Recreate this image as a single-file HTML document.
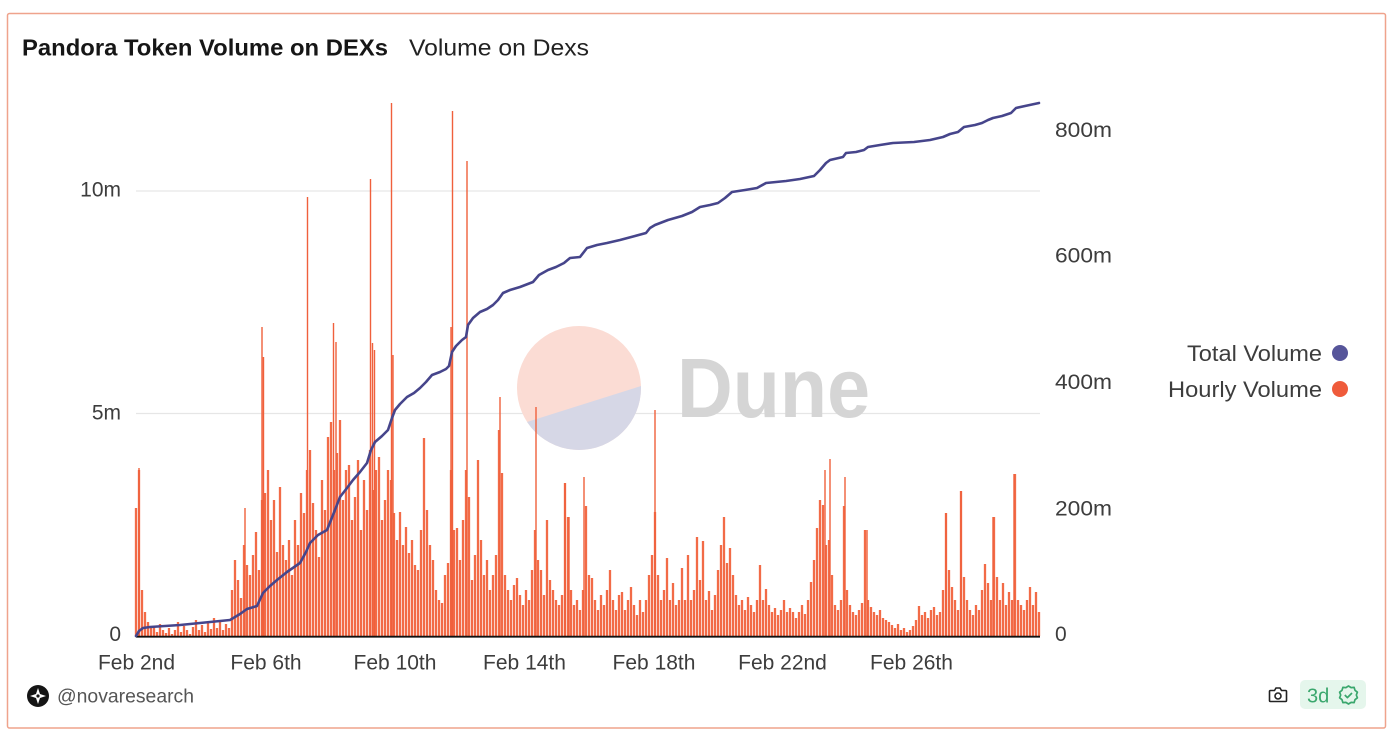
<!DOCTYPE html>
<html>
<head>
<meta charset="utf-8">
<style>
html,body{margin:0;padding:0;background:#fff;}
svg{display:block;}
text{font-family:"Liberation Sans",Arial,sans-serif;}
</style>
</head>
<body>
<svg width="1400" height="741" viewBox="0 0 1400 741" xmlns="http://www.w3.org/2000/svg">
<rect x="0" y="0" width="1400" height="741" fill="#fff"/>
<rect x="7.5" y="13.5" width="1378" height="714.5" rx="2" fill="#fff" stroke="#efa38c" stroke-width="1.5"/>

<!-- title -->
<text x="22" y="55.5" font-size="23" font-weight="bold" fill="#161616" textLength="366" lengthAdjust="spacingAndGlyphs">Pandora Token Volume on DEXs</text>
<text x="409" y="55.5" font-size="23" fill="#222" textLength="180" lengthAdjust="spacingAndGlyphs">Volume on Dexs</text>

<!-- gridlines -->
<line x1="136" y1="191" x2="1040" y2="191" stroke="#e6e6e6" stroke-width="1.2"/>
<line x1="136" y1="413.5" x2="1040" y2="413.5" stroke="#e6e6e6" stroke-width="1.2"/>

<!-- Dune watermark -->
<clipPath id="cc"><circle cx="579" cy="388" r="62"/></clipPath>
<circle cx="579" cy="388" r="62" fill="#fbdcd4"/>
<polygon clip-path="url(#cc)" points="500,428 527,422 641,386 660,380 660,460 500,460" fill="#d6d7e6"/>
<text x="677" y="417" font-size="84" font-weight="bold" fill="#d5d5d5" textLength="193" lengthAdjust="spacingAndGlyphs">Dune</text>

<!-- bars -->
<path fill="none" stroke="#f26b47" stroke-width="2.3" d="M136 636V508M139 636V470M142 636V590M145 636V612M148 636V622M151 636V628M154 636V626M157 636V632M160 636V624M163 636V630M166 636V633M169 636V628M172 636V634M175 636V630M178 636V622M181 636V632M184 636V626M187 636V630M190 636V634M193 636V627M196 636V620M199 636V630M202 636V625M205 636V632M208 636V623M211 636V629M214 636V618M217 636V628M220 636V622M223 636V630M226 636V624M229 636V628
M232 636V590M235 636V560M238 636V580M241 636V598M244 636V545M247 636V565M250 636V575M253 636V555M256 636V532M259 636V570M262 636V500M265 636V493M268 636V470M271 636V520M274 636V500M277 636V552M280 636V487M283 636V545M286 636V560M289 636V540M292 636V575M295 636V520M298 636V545M301 636V493
M304 636V513M307 636V470M310 636V450M313 636V503M316 636V530M319 636V557M322 636V480M325 636V510M328 636V437M331 636V422M334 636V470M337 636V453M340 636V420M343 636V500M346 636V470M349 636V465M352 636V520M355 636V497M358 636V460M361 636V530M364 636V480M367 636V510M370 636V450M373 636V490M376 636V470M379 636V457M382 636V520M385 636V500M388 636V470M391 636V480M394 636V513M397 636V540M400 636V512M403 636V545M406 636V527M409 636V553M412 636V540M415 636V565M418 636V570M421 636V530M424 636V438M427 636V510M430 636V545M433 636V560M436 636V590M439 636V600M442 636V603M445 636V575M448 636V563M451 636V470M454 636V530M457 636V528M460 636V560M463 636V520M466 636V470M469 636V497
M472 636V580M475 636V555M478 636V460M481 636V540M484 636V575M487 636V560M490 636V590M493 636V575M496 636V555M499 636V430M502 636V473M505 636V575M508 636V590M511 636V600M514 636V585M517 636V578M520 636V595M523 636V605M526 636V590M529 636V600M532 636V570M535 636V530M538 636V560M541 636V570M544 636V595M547 636V520M550 636V580M553 636V590M556 636V600M559 636V605M562 636V595M565 636V483M568 636V517M571 636V590M574 636V605M577 636V600M580 636V610M583 636V590M586 636V506M589 636V575M592 636V578M595 636V600M598 636V610M601 636V595M604 636V605M607 636V590M610 636V570M613 636V600M616 636V610M619 636V595M622 636V592M625 636V610M628 636V600M631 636V587M634 636V605M637 636V615M640 636V600M643 636V612M646 636V600M649 636V575M652 636V555M655 636V512M658 636V575M661 636V600M664 636V590M667 636V558M670 636V600M673 636V583M676 636V605M679 636V600M682 636V568M685 636V600M688 636V555M691 636V600M694 636V590M697 636V537M700 636V580M703 636V541M706 636V600M709 636V591M712 636V610M715 636V595M718 636V570M721 636V545M724 636V517M727 636V563M730 636V548M733 636V575M736 636V595M739 636V605M742 636V600M745 636V610M748 636V597M751 636V605M754 636V612M757 636V600M760 636V565M763 636V600M766 636V589M769 636V605M772 636V612M775 636V608M778 636V615M781 636V610M784 636V600M787 636V612M790 636V608M793 636V612M796 636V618M799 636V612M802 636V605M805 636V614M808 636V600M811 636V582M814 636V560M817 636V528M820 636V500M823 636V505M826 636V545M829 636V540M832 636V575M835 636V605M838 636V610M841 636V600M844 636V506M847 636V590M850 636V605M853 636V612M856 636V615M859 636V610M862 636V603M865 636V530M868 636V600M871 636V607M874 636V612M877 636V615M880 636V610M883 636V618M886 636V620M889 636V622M892 636V625M895 636V628M898 636V624M901 636V630M904 636V628M907 636V632M910 636V630M913 636V626M916 636V620M919 636V606M922 636V615M925 636V612M928 636V618M931 636V610M934 636V607M937 636V615M940 636V612M943 636V590M946 636V513M949 636V570M952 636V587M955 636V600M958 636V610M961 636V491M964 636V577M967 636V600M970 636V610M973 636V615M976 636V605M979 636V610M982 636V590M985 636V564M988 636V583M991 636V600M994 636V517M997 636V577M1000 636V600M1003 636V583M1006 636V605M1009 636V592M1012 636V600M1015 636V474M1018 636V600M1021 636V605M1024 636V610M1027 636V600M1030 636V587M1033 636V605M1036 636V592M1039 636V612"/>

<!-- spikes -->
<path fill="none" stroke="#f0603c" stroke-width="1.4" d="M139 636V468M245 636V508M262 636V327M263.5 636V357M307.5 636V197M333.5 636V323M336 636V342M370.5 636V179M372.5 636V343M374.5 636V350M391.5 636V103M393 636V355M451 636V327M452.5 636V111M467 636V161M500 636V397M536 636V407M655 636V410M825 636V470M830 636V459M845 636V477M867 636V530M946 636V513M961 636V491M993 636V517M1014 636V474M565 636V483M569 636V517M584 636V477M262 636V327"/>

<!-- baseline -->
<line x1="136" y1="636.7" x2="1040" y2="636.7" stroke="#111" stroke-width="1.8"/>

<!-- total volume line -->
<polyline fill="none" stroke="#46458b" stroke-width="2.6" stroke-linejoin="round" stroke-linecap="round" points="136,636 139,631 143,628 150,627 180,625 210,622 230,620 240,614 247,609 257,606 263,593 270,586 277,580 287,572 300,563 306,552 310,543 318,535 327,530 333,515 340,497 347,488 353,480 360,472 367,463 371,450 375,442 382,436 388,430 392,418 395,410 400,404 407,397 414,393 420,388 426,382 432,375 440,372 446,369 449,366 452,352 456,346 462,340 466,337 468,325 473,318 480,312 487,309 493,305 498,300 503,293 510,290 520,287 533,282 539,275 548,270 556,267 564,263 570,258 580,257 587,248 597,245 607,243 620,240 635,236 646,233 650,228 655,225 668,220 682,216 692,212 700,207 710,205 718,203 725,198 732,192 745,190 757,188 766,183 776,182 786,181 800,179 814,176 820,170 826,163 830,160 843,157 846,153 856,152 864,150 868,147 880,145 893,143 914,142 930,140 943,137 950,134 958,132 964,127 975,125 982,123 988,120 993,118 1002,116 1011,113 1016,108 1025,106 1039,103"/>

<!-- left axis labels -->
<g font-size="21" fill="#3d3d3d" text-anchor="end">
<text x="121" y="196.5">10m</text>
<text x="121" y="419.5">5m</text>
<text x="121" y="641">0</text>
</g>
<!-- right axis labels -->
<g font-size="21" fill="#3d3d3d">
<text x="1055" y="137" textLength="57" lengthAdjust="spacingAndGlyphs">800m</text>
<text x="1055" y="262.5" textLength="57" lengthAdjust="spacingAndGlyphs">600m</text>
<text x="1055" y="389" textLength="57" lengthAdjust="spacingAndGlyphs">400m</text>
<text x="1055" y="515.5" textLength="57" lengthAdjust="spacingAndGlyphs">200m</text>
<text x="1055" y="641">0</text>
</g>
<!-- x labels -->
<g font-size="21" fill="#3d3d3d" text-anchor="middle">
<text x="136.5" y="669.5">Feb 2nd</text>
<text x="266" y="669.5">Feb 6th</text>
<text x="395" y="669.5">Feb 10th</text>
<text x="524.5" y="669.5">Feb 14th</text>
<text x="654" y="669.5">Feb 18th</text>
<text x="782.5" y="669.5">Feb 22nd</text>
<text x="911.5" y="669.5">Feb 26th</text>
</g>

<!-- legend -->
<g font-size="22" fill="#3d3d3d" text-anchor="end">
<text x="1322" y="361" textLength="135" lengthAdjust="spacingAndGlyphs">Total Volume</text>
<text x="1322" y="397" textLength="154" lengthAdjust="spacingAndGlyphs">Hourly Volume</text>
</g>
<circle cx="1340" cy="353" r="8" fill="#56559a"/>
<circle cx="1340" cy="389" r="8" fill="#ef5b3b"/>

<!-- footer -->
<circle cx="38" cy="696" r="11" fill="#151515"/>
<path d="M38 688 L40 694 L46 696 L40 698 L38 704 L36 698 L30 696 L36 694 Z" fill="#fff"/>
<circle cx="38" cy="696" r="1.6" fill="#151515"/>
<text x="57" y="702.5" font-size="19.5" fill="#555" textLength="137" lengthAdjust="spacingAndGlyphs">@novaresearch</text>

<!-- camera icon -->
<g fill="none" stroke="#222" stroke-width="1.6">
<path d="M1270.5 690.5 h4 l1.5 -2.5 h4 l1.5 2.5 h4 a1 1 0 0 1 1 1 v9 a1 1 0 0 1 -1 1 h-15 a1 1 0 0 1 -1 -1 v-9 a1 1 0 0 1 1 -1 z"/>
<circle cx="1278" cy="696" r="3"/>
</g>
<!-- badge -->
<rect x="1300" y="680" width="66" height="29" rx="5" fill="#e5f6ec"/>
<text x="1307" y="702.5" font-size="20" fill="#3aa76d">3d</text>
<g fill="none" stroke="#3aa76d" stroke-width="1.7" stroke-linejoin="round">
<path d="M1348.5 686 l2.6 1.6 3 -0.2 0.9 2.9 2.4 1.9 -1.1 2.8 1.1 2.8 -2.4 1.9 -0.9 2.9 -3 -0.2 -2.6 1.6 -2.6 -1.6 -3 0.2 -0.9 -2.9 -2.4 -1.9 1.1 -2.8 -1.1 -2.8 2.4 -1.9 0.9 -2.9 3 0.2 z"/>
<path d="M1344.8 695 l2.6 2.6 4.6 -4.6"/>
</g>
</svg>
</body>
</html>
